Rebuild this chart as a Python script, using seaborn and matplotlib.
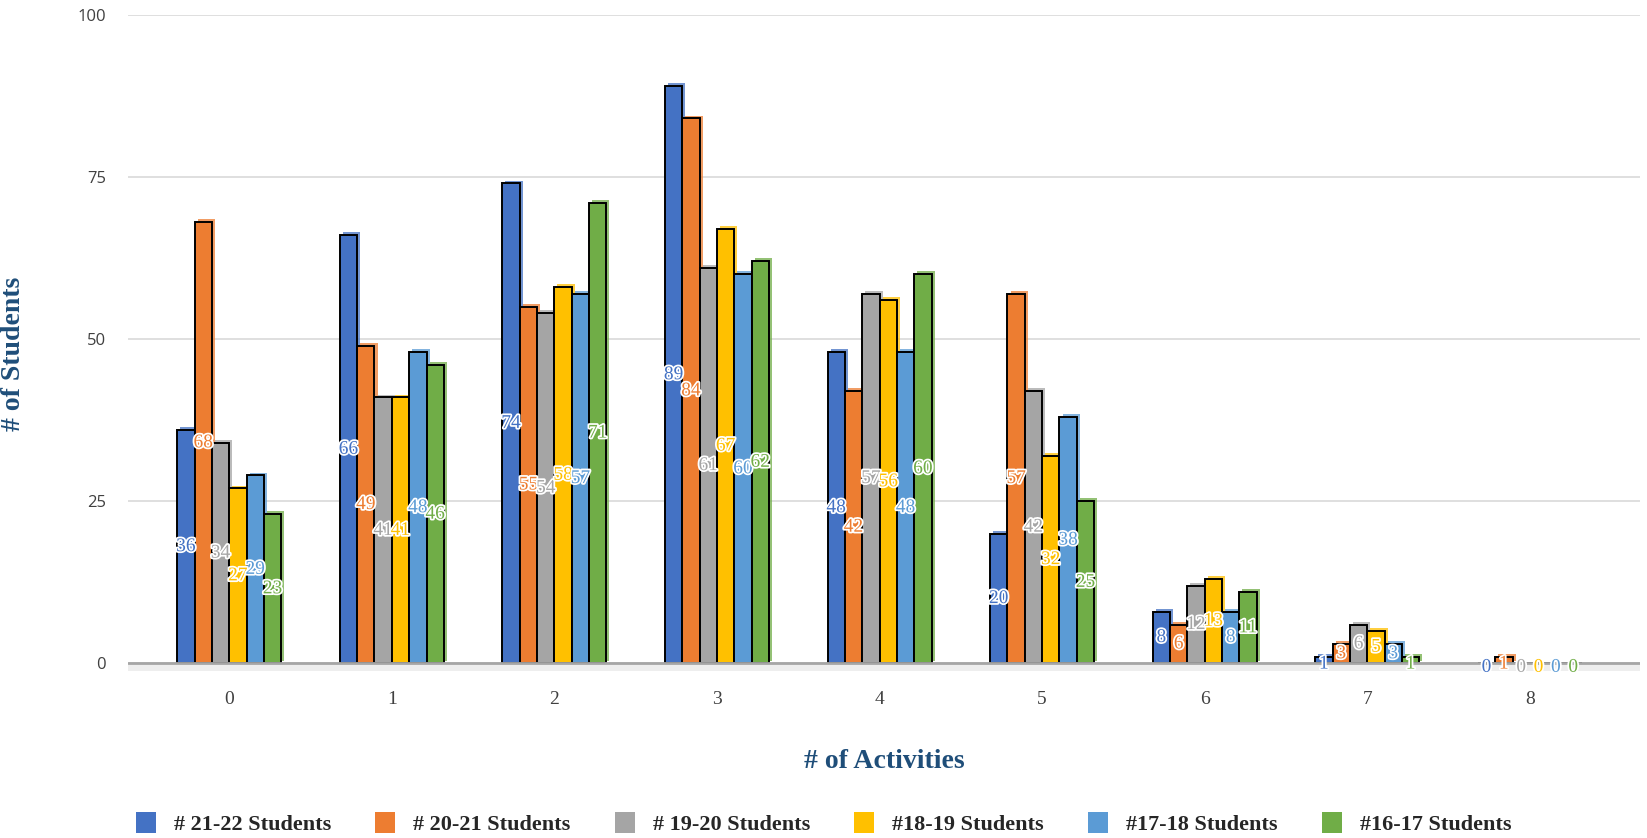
import pandas as pd
import seaborn as sns
import matplotlib
matplotlib.use("Agg")
import matplotlib.pyplot as plt
import matplotlib.patheffects as pe
from matplotlib.patches import Patch

activities = ["0", "1", "2", "3", "4", "5", "6", "7", "8"]
cohorts = ["# 21-22 Students", "# 20-21 Students", "# 19-20 Students",
           "#18-19 Students", "#17-18 Students", "#16-17 Students"]
s_21_22 = [36, 66, 74, 89, 48, 20, 8, 1, 0]
s_20_21 = [68, 49, 55, 84, 42, 57, 6, 3, 1]
s_19_20 = [34, 41, 54, 61, 57, 42, 12, 6, 0]
s_18_19 = [27, 41, 58, 67, 56, 32, 13, 5, 0]
s_17_18 = [29, 48, 57, 60, 48, 38, 8, 3, 0]
s_16_17 = [23, 46, 71, 62, 60, 25, 11, 1, 0]
colors = ["#4472C4", "#ED7D31", "#A5A5A5", "#FFC000", "#5B9BD5", "#70AD47"]

series = [s_21_22, s_20_21, s_19_20, s_18_19, s_17_18, s_16_17]
rows = []
for name, vals in zip(cohorts, series):
    for a, v in zip(activities, vals):
        rows.append({"activities": a, "students": v, "cohort": name})
df = pd.DataFrame(rows)

sns.set_style("white")
serif = ["Liberation Serif", "DejaVu Serif"]
navy = "#1f4e79"

fig = plt.figure(figsize=(16.47, 8.38), dpi=100)
ax = fig.add_axes([0.078, 0.199, 0.918, 0.7835])

sns.barplot(data=df, x="activities", y="students", hue="cohort",
            palette=colors, width=0.64, edgecolor="black", linewidth=1.4,
            saturation=1, ax=ax, legend=False)

# fake 3D look: a light offset cap behind each bar
for cont, col in zip(ax.containers, colors):
    for p in cont.patches:
        p.set_path_effects([pe.SimplePatchShadow(offset=(2.2, 2.0), shadow_rgbFace=col, alpha=0.75),
                            pe.Normal()])

# data labels at mid height
for cont, col, vals in zip(ax.containers, colors, series):
    for p, v in zip(cont.patches, vals):
        x = p.get_x() + p.get_width() / 2
        ax.text(x, v / 2 - 0.6 * (v < 2), str(v), ha="center", va="center",
                color=col, fontsize=14, family=serif, zorder=5,
                path_effects=[pe.withStroke(linewidth=2.5, foreground="white")])

ax.set_ylim(-1.2, 100)
ax.set_xlim(-0.62, 8.68)
ax.set_yticks([0, 25, 50, 75, 100])
ax.yaxis.grid(True, color="#d9d9d9", linewidth=1.2)
ax.set_axisbelow(True)
ax.axhline(0, color="#a6a6a6", linewidth=2, zorder=1)
ax.axhspan(-1.2, 0, color="#eeeeee", zorder=0, linewidth=0)
for s in ax.spines.values():
    s.set_visible(False)
ax.tick_params(axis="both", length=0)
ax.tick_params(axis="y", pad=16, labelsize=12, labelcolor="#404040")
ax.tick_params(axis="x", pad=14, labelsize=14, labelcolor="#404040")
for t in ax.get_yticklabels():
    t.set_family("Open Sans")
for t in ax.get_xticklabels():
    t.set_family(serif)

ax.set_xlabel("# of Activities", family=serif, fontweight="bold", fontsize=20,
              color=navy, labelpad=30)
ax.set_ylabel("# of Students", family=serif, fontweight="bold", fontsize=20,
              color=navy)
ax.yaxis.set_label_coords(-0.068, 0.483)

handles = [Patch(facecolor=c, edgecolor="none") for c in colors]
fig.legend(handles, cohorts, loc="center", bbox_to_anchor=(0.5, 0.017), ncol=6,
           frameon=False, handlelength=0.9, handleheight=1.1, handletextpad=0.8,
           columnspacing=2.0, prop={"family": serif, "weight": "bold", "size": 16})

fig.savefig("out.png", dpi=100)
